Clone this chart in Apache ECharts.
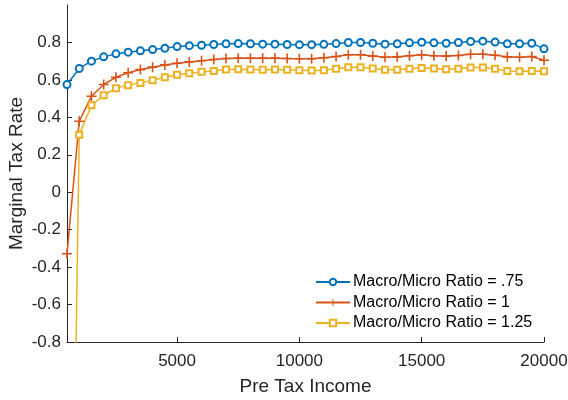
<!DOCTYPE html>
<html>
<head>
<meta charset="utf-8">
<script src="https://cdn.jsdelivr.net/npm/echarts@6/dist/echarts.min.js"></script>
<style>html,body{margin:0;padding:0;background:#fff}#c{width:568px;height:400px}</style>
</head>
<body>
<div id="c"></div>
<script>
var incomes = [500,1000,1500,2000,2500,3000,3500,4000,4500,5000,5500,6000,6500,7000,7500,8000,8500,9000,9500,10000,10500,11000,11500,12000,12500,13000,13500,14000,14500,15000,15500,16000,16500,17000,17500,18000,18500,19000,19500,20000];
var ratio075 = [0.575,0.661,0.700,0.723,0.739,0.748,0.755,0.762,0.769,0.778,0.783,0.785,0.789,0.793,0.794,0.793,0.791,0.791,0.789,0.788,0.788,0.790,0.794,0.800,0.800,0.796,0.791,0.793,0.798,0.801,0.798,0.796,0.800,0.805,0.807,0.802,0.793,0.793,0.796,0.766];
var ratio1 = [-0.329,0.379,0.513,0.575,0.614,0.638,0.655,0.668,0.680,0.689,0.696,0.702,0.709,0.714,0.716,0.716,0.716,0.716,0.714,0.713,0.713,0.718,0.725,0.734,0.734,0.727,0.721,0.723,0.729,0.734,0.729,0.727,0.730,0.737,0.737,0.732,0.723,0.721,0.725,0.705];
var ratio125 = [-4.0,0.307,0.464,0.518,0.556,0.572,0.584,0.598,0.614,0.627,0.636,0.643,0.648,0.655,0.657,0.655,0.654,0.655,0.654,0.652,0.650,0.652,0.659,0.668,0.668,0.661,0.654,0.654,0.659,0.664,0.661,0.657,0.659,0.666,0.666,0.659,0.648,0.646,0.648,0.646];
var seriesNames = ['Macro/Micro Ratio = .75','Macro/Micro Ratio = 1','Macro/Micro Ratio = 1.25'];
var xTicks = [5000,10000,15000,20000];
var yTicks = [-0.8,-0.6,-0.4,-0.2,0,0.2,0.4,0.6,0.8];

function pairs(ys){ return incomes.map(function(x,i){ return [x, ys[i]]; }); }
var axisColor = '#262626';
var font = 'Liberation Sans, Arial, Helvetica, sans-serif';
var plus = 'path://M4.2,0H5.8V4.2H10V5.8H5.8V10H4.2V5.8H0V4.2H4.2Z';

var chart = echarts.init(document.getElementById('c'), null, {renderer:'canvas'});
chart.setOption({
  animation: false,
  backgroundColor: '#fff',
  textStyle: {fontFamily: font},
  grid: {left: 67, right: 24, top: 5, bottom: 58, containLabel: false, outerBoundsMode: 'none'},
  xAxis: {
    type: 'value', min: 500, max: 20000,
    name: 'Pre Tax Income', nameLocation: 'middle', nameGap: 35, nameMoveOverlap: false,
    nameTextStyle: {fontSize: 19, color: axisColor, fontFamily: font},
    axisLine: {show: true, onZero: false, lineStyle: {color: axisColor, width: 1}},
    axisTick: {show: true, inside: true, length: 5, customValues: xTicks, lineStyle: {color: axisColor}},
    axisLabel: {customValues: xTicks, fontSize: 17, color: axisColor, margin: 11, fontFamily: font,
      formatter: function(v){ return String(v); }},
    splitLine: {show: false}
  },
  yAxis: {
    type: 'value', min: -0.8, max: 1,
    name: 'Marginal Tax Rate', nameLocation: 'middle', nameGap: 41, nameRotate: 90, nameMoveOverlap: false,
    nameTextStyle: {fontSize: 19, color: axisColor, fontFamily: font},
    axisLine: {show: true, onZero: false, lineStyle: {color: axisColor, width: 1}},
    axisTick: {show: true, inside: true, length: 5, customValues: yTicks, lineStyle: {color: axisColor}},
    axisLabel: {customValues: yTicks, fontSize: 17, color: axisColor, margin: 6, fontFamily: font,
      formatter: function(v){ return Math.abs(v) < 1e-9 ? '0' : (Math.round(v*10)/10).toFixed(1); }},
    splitLine: {show: false}
  },
  legend: {
    orient: 'vertical', left: 315, top: 274, padding: 0,
    itemWidth: 34, itemHeight: 8, itemGap: 4.5,
    textStyle: {fontSize: 16, color: '#000', lineHeight: 16, fontFamily: font, padding: [0,0,0,-2]},
    data: seriesNames
  },
  series: [
    {name: seriesNames[0], type: 'line', data: pairs(ratio075), symbol: 'emptyCircle', symbolSize: 7,
     lineStyle: {color: '#0072BD', width: 1.5}, itemStyle: {color: '#0072BD', borderWidth: 1.5}},
    {name: seriesNames[1], type: 'line', data: pairs(ratio1), symbol: plus, symbolSize: 10,
     lineStyle: {color: '#D95319', width: 1.5}, itemStyle: {color: '#D95319'}},
    {name: seriesNames[2], type: 'line', data: pairs(ratio125), symbol: 'emptyRect', symbolSize: 6,
     lineStyle: {color: '#EDB120', width: 1.5}, itemStyle: {color: '#EDB120', borderWidth: 1.5}}
  ]
});
</script>
</body>
</html>
